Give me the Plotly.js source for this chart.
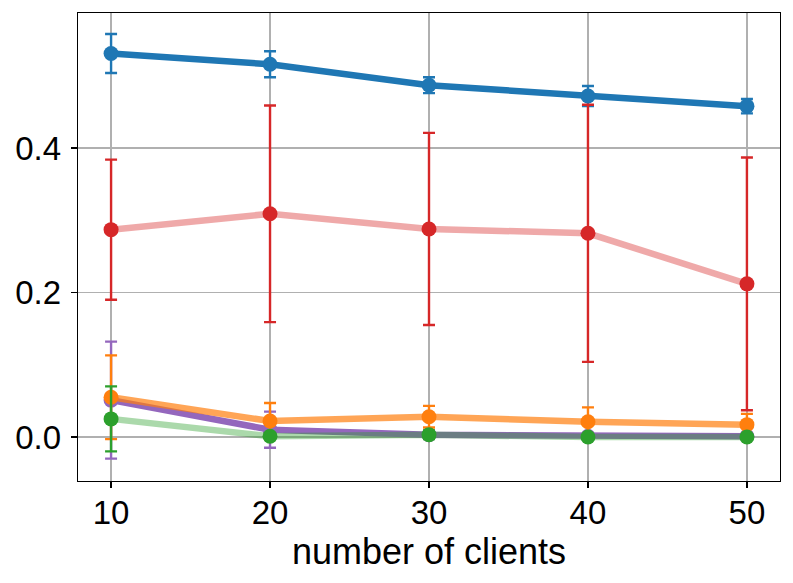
<!DOCTYPE html>
<html>
<head>
<meta charset="utf-8">
<script src="https://cdn.plot.ly/plotly-3.0.1.min.js"></script>
<style>html,body{margin:0;padding:0;background:#fff;}#chart{width:793px;height:583px;}</style>
</head>
<body>
<div id="chart"></div>
<script>
const clients = [10, 20, 30, 40, 50];

const blueMean = [0.531, 0.516, 0.487, 0.472, 0.458];
const blueErr  = [0.027, 0.018, 0.011, 0.014, 0.010];

const redMean = [0.287, 0.309, 0.288, 0.282, 0.212];
const redErr  = [0.097, 0.150, 0.133, 0.178, 0.175];

const purpleMean = [0.051, 0.010, 0.003, 0.001, 0.001];
const purpleErr  = [0.081, 0.025, 0.004, 0.002, 0.002];

const orangeMean = [0.055, 0.022, 0.028, 0.021, 0.017];
const orangeErr  = [0.058, 0.025, 0.015, 0.020, 0.015];

const greenMean = [0.025, 0.001, 0.003, 0.000, 0.000];
const greenErr  = [0.045, 0.004, 0.006, 0.002, 0.002];

function series(y, err, lineColor, markerColor) {
  return {
    x: clients, y: y, type: 'scatter', mode: 'lines+markers',
    line: {color: lineColor, width: 6.5},
    marker: {color: markerColor, size: 15},
    error_y: {type: 'data', array: err, visible: true, color: markerColor, thickness: 2.4, width: 6},
    showlegend: false, hoverinfo: 'skip'
  };
}

const data = [
  series(blueMean, blueErr, 'rgb(31,119,180)', 'rgb(31,119,180)'),
  series(redMean, redErr, 'rgba(214,39,40,0.4)', 'rgb(214,39,40)'),
  series(purpleMean, purpleErr, 'rgb(148,103,189)', 'rgb(148,103,189)'),
  series(orangeMean, orangeErr, 'rgba(255,127,14,0.7)', 'rgb(255,127,14)'),
  series(greenMean, greenErr, 'rgba(44,160,44,0.4)', 'rgb(44,160,44)')
];

const layout = {
  width: 793, height: 583,
  margin: {l: 78, r: 13, t: 13, b: 102},
  paper_bgcolor: '#fff', plot_bgcolor: '#fff',
  font: {family: 'Liberation Sans, Arial, sans-serif', size: 33, color: '#000'},
  xaxis: {
    range: [7.92, 52.08], tickvals: clients, ticktext: clients.map(String),
    tickfont: {size: 33}, ticklabelstandoff: -4,
    showgrid: true, gridcolor: '#b0b0b0', gridwidth: 1.4,
    zeroline: false, showline: true, linecolor: '#000', linewidth: 1.3, mirror: true,
    ticks: 'outside', ticklen: 6, tickcolor: '#000', tickwidth: 1.3,
    automargin: false,
    title: {text: 'number of clients', font: {size: 36}, standoff: 2}
  },
  yaxis: {
    range: [-0.061, 0.587], tickvals: [0, 0.2, 0.4], ticktext: ['0.0', '0.2', '0.4'],
    tickfont: {size: 33}, ticklabelstandoff: 3,
    showgrid: true, gridcolor: '#b0b0b0', gridwidth: 1.4,
    zeroline: false, showline: true, linecolor: '#000', linewidth: 1.3, mirror: true,
    ticks: 'outside', ticklen: 6, tickcolor: '#000', tickwidth: 1.3,
    automargin: false
  }
};

Plotly.newPlot('chart', data, layout, {displayModeBar: false, staticPlot: true});
</script>
</body>
</html>
